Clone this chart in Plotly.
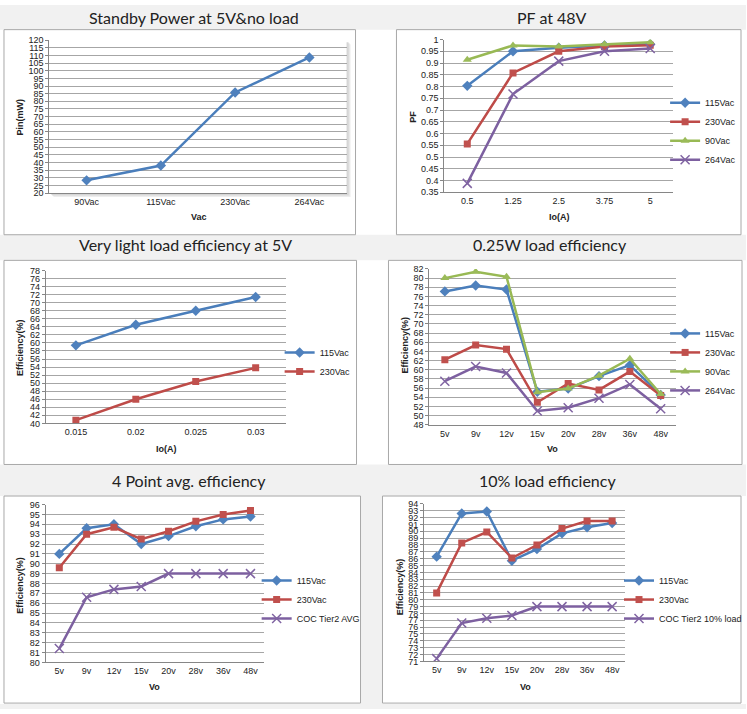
import plotly.graph_objects as go

# ---------------- data ----------------
standby_cats = ["90Vac", "115Vac", "230Vac", "264Vac"]
standby_pin = [28.3, 38.0, 85.8, 108.7]

pf_io = ["0.5", "1.25", "2.5", "3.75", "5"]
pf_115 = [0.803, 0.950, 0.965, 0.975, 0.980]
pf_230 = [0.556, 0.858, 0.950, 0.970, 0.976]
pf_90 = [0.914, 0.975, 0.970, 0.980, 0.988]
pf_264 = [0.388, 0.768, 0.908, 0.950, 0.962]

light_io = ["0.015", "0.02", "0.025", "0.03"]
light_115 = [59.4, 64.5, 68.0, 71.4]
light_230 = [40.8, 46.0, 50.4, 53.8]

vo = ["5v", "9v", "12v", "15v", "20v", "28v", "36v", "48v"]
q_115 = [77.1, 78.4, 77.5, 55.2, 55.9, 58.6, 61.0, 54.5]
q_230 = [62.2, 65.4, 64.5, 52.9, 57.0, 55.6, 59.6, 54.4]
q_90 = [80.0, 81.4, 80.3, 55.1, 55.9, 58.7, 62.4, 54.7]
q_264 = [57.5, 60.7, 59.3, 51.0, 51.7, 53.8, 56.8, 51.5]

avg_115 = [91.0, 93.6, 94.0, 92.0, 92.8, 93.8, 94.5, 94.8]
avg_230 = [89.6, 93.0, 93.7, 92.5, 93.3, 94.3, 95.0, 95.4]
avg_coc = [81.4, 86.6, 87.4, 87.7, 89.0, 89.0, 89.0, 89.0]

ten_115 = [86.3, 92.6, 92.9, 85.7, 87.4, 89.7, 90.6, 91.2]
ten_230 = [81.0, 88.3, 89.9, 86.1, 88.0, 90.4, 91.5, 91.5]
ten_coc = [71.4, 76.6, 77.3, 77.7, 79.0, 79.0, 79.0, 79.0]

# ---------------- layout helpers ----------------
W, H = 747, 714
def px(x):
    return x / W
def py(y):
    return 1 - y / H

SMALL = "Liberation Sans, Arial"
TICKFONT = dict(family=SMALL, size=9, color="#222222")
BLUE, BLUE_M = "#4A7EBB", "#4F81BD"
RED, RED_M = "#BE4B48", "#C0504D"
GREEN, GREEN_M = "#98B954", "#9BBB59"
PURPLE, PURPLE_M = "#7D60A0", "#8064A2"

def style(kind):
    if kind == "blue":
        return dict(line=dict(color=BLUE, width=2.5),
                    marker=dict(symbol="diamond", size=8, color=BLUE_M))
    if kind == "red":
        return dict(line=dict(color=RED, width=2.5),
                    marker=dict(symbol="square", size=7, color=RED_M))
    if kind == "green":
        return dict(line=dict(color=GREEN, width=2.5),
                    marker=dict(symbol="triangle-up", size=8, color=GREEN_M))
    return dict(line=dict(color=PURPLE, width=2.5),
                marker=dict(symbol="x-thin", size=9, color=PURPLE_M,
                            line=dict(color=PURPLE_M, width=1.5)))

fig = go.Figure()

panels = [
    dict(cats=standby_cats, series=[("Pin", standby_pin, "blue")],
         xd=(49.5, 347), yd=(35.7, 190.7), yr=(20, 120), dt=5, legend=None),
    dict(cats=pf_io, series=[("115Vac", pf_115, "blue"), ("230Vac", pf_230, "red"),
                             ("90Vac", pf_90, "green"), ("264Vac", pf_264, "purple")],
         xd=(445, 674), yd=(35, 190), yr=(0.35, 1.0), dt=0.05, legend=(666, 128)),
    dict(cats=light_io, series=[("115Vac", light_115, "blue"), ("230Vac", light_230, "red")],
         xd=(46, 286), yd=(269.3, 424.3), yr=(40, 78), dt=2, legend=(280, 362)),
    dict(cats=vo, series=[("115Vac", q_115, "blue"), ("230Vac", q_230, "red"),
                          ("90Vac", q_90, "green"), ("264Vac", q_264, "purple")],
         xd=(430, 677), yd=(267.7, 425.7), yr=(48, 82), dt=2, legend=(666, 362)),
    dict(cats=vo, series=[("115Vac", avg_115, "blue"), ("230Vac", avg_230, "red"),
                          ("COC Tier2 AVG", avg_coc, "purple")],
         xd=(45.7, 264.5), yd=(506.7, 666.7), yr=(80, 96), dt=1, legend=(257, 603)),
    dict(cats=vo, series=[("115Vac", ten_115, "blue"), ("230Vac", ten_230, "red"),
                          ("COC Tier2 10% load", ten_coc, "purple")],
         xd=(424.7, 625.5), yd=(506, 665.7), yr=(71, 94), dt=1, legend=(620, 603)),
]

layout = dict(width=W, height=H, margin=dict(l=0, r=0, t=0, b=0),
              paper_bgcolor="white", plot_bgcolor="white", showlegend=True)

for i, p in enumerate(panels):
    n = i + 1
    xa = "x" if n == 1 else f"x{n}"
    ya = "y" if n == 1 else f"y{n}"
    lg = "legend" if n == 1 else f"legend{n}"
    for name, vals, kind in p["series"]:
        fig.add_trace(go.Scatter(x=p["cats"], y=vals, name=name, mode="lines+markers",
                                 xaxis=xa, yaxis=ya, legend=lg,
                                 showlegend=p["legend"] is not None, **style(kind)))
    ncat = len(p["cats"])
    layout["xaxis" if n == 1 else f"xaxis{n}"] = dict(
        domain=[px(p["xd"][0]), px(p["xd"][1])], anchor=ya, type="category",
        range=[-0.5, ncat - 0.5], showgrid=False, zeroline=False,
        showline=True, linecolor="#868686", linewidth=1,
        ticks="", tickangle=0, tickfont=TICKFONT, fixedrange=True)
    layout["yaxis" if n == 1 else f"yaxis{n}"] = dict(
        domain=[py(p["yd"][1]), py(p["yd"][0])], anchor=xa,
        range=list(p["yr"]), dtick=p["dt"], tick0=p["yr"][0],
        showgrid=True, gridcolor="#a6a6a6", gridwidth=1, zeroline=False,
        showline=True, linecolor="#868686", linewidth=1,
        ticks="outside", ticklen=3, tickcolor="#868686",
        tickfont=TICKFONT, fixedrange=True)
    if p["legend"] is not None:
        layout[lg] = dict(x=px(p["legend"][0]), y=py(p["legend"][1]),
                          xanchor="left", yanchor="middle", bgcolor="rgba(0,0,0,0)",
                          font=dict(family=SMALL, size=9, color="#222222"),
                          itemwidth=30, tracegroupgap=0)

# ---------------- background bands and boxes ----------------
shapes = []
BAND = "#f1f1f1"
for (y0, y1) in [(0, 25), (233, 259), (466, 498)]:
    shapes.append(dict(type="rect", xref="paper", yref="paper", x0=0, x1=1,
                       y0=py(y1), y1=py(y0), fillcolor=BAND, line=dict(width=0), layer="below"))
shapes.append(dict(type="rect", xref="paper", yref="paper", x0=px(361), x1=px(383),
                   y0=py(714), y1=py(498), fillcolor=BAND, line=dict(width=0), layer="below"))
shapes.append(dict(type="rect", xref="paper", yref="paper", x0=0, x1=1,
                   y0=py(714), y1=py(709), fillcolor=BAND, line=dict(width=0), layer="below"))
boxes = [(4, 25, 356, 233), (397, 25, 742, 233), (4, 259, 357, 466),
         (389, 259, 743, 466), (4, 498, 361, 708), (383, 498, 742, 708)]
for (x0, y0, x1, y1) in boxes:
    shapes.append(dict(type="rect", xref="paper", yref="paper", x0=px(x0), x1=px(x1),
                       y0=py(y1), y1=py(y0), fillcolor="white",
                       line=dict(color="#a8a8a8", width=1), layer="below"))
# soft drop shadow behind the first plot area (Excel shadow effect)
for off, col in [(4, "#ededed"), (3, "#e2e2e2"), (2, "#d6d6d6")]:
    shapes.append(dict(type="rect", xref="paper", yref="paper",
                       x0=px(49.5 + off), x1=px(347 + off),
                       y0=py(190.7 + off), y1=py(35.7 + off),
                       fillcolor=col, line=dict(width=0), layer="below"))
shapes.append(dict(type="rect", xref="paper", yref="paper",
                   x0=px(49.5), x1=px(347), y0=py(190.7), y1=py(35.7),
                   fillcolor="white", line=dict(width=0), layer="below"))
layout["shapes"] = shapes

# ---------------- titles and axis titles ----------------
ann = []
TFONT = dict(family="Lato, Inter, Arial", size=16, color="#222222")
for text, x, y in [("Standby Power at 5V&no load", 194, 13), ("PF at 48V", 553, 13),
                   ("Very light load efficiency at 5V", 186, 243),
                   ("0.25W load efficiency", 551, 243),
                   ("4 Point avg. efficiency", 189, 482), ("10% load efficiency", 548, 482)]:
    ann.append(dict(text=text, x=px(x), y=py(y), xref="paper", yref="paper",
                    showarrow=False, font=TFONT, xanchor="center", yanchor="middle"))
AFONT = dict(family=SMALL, size=9, color="#222222")
for text, x, y in [("Vac", 199, 215), ("Io(A)", 560, 215), ("Io(A)", 167, 450),
                   ("Vo", 553, 450), ("Vo", 155, 692), ("Vo", 526, 692)]:
    ann.append(dict(text=f"<b>{text}</b>", x=px(x), y=py(y), xref="paper", yref="paper",
                    showarrow=False, font=AFONT, xanchor="center", yanchor="middle"))
for text, x, y in [("Pin(mW)", 20, 113), ("PF", 414, 113), ("Efficiency(%)", 20, 347),
                   ("Efficiency(%)", 406, 345), ("Efficiency(%)", 20, 588),
                   ("Efficiency(%)", 400, 590)]:
    ann.append(dict(text=f"<b>{text}</b>", x=px(x), y=py(y), xref="paper", yref="paper",
                    showarrow=False, font=AFONT, textangle=-90,
                    xanchor="center", yanchor="middle"))
layout["annotations"] = ann

fig.update_layout(**layout)
fig.write_html("out.html", config={"displayModeBar": False},
               post_script="document.body.style.margin='0';"
                           "document.body.style.padding='0';"
                           "document.body.style.overflow='hidden';")
